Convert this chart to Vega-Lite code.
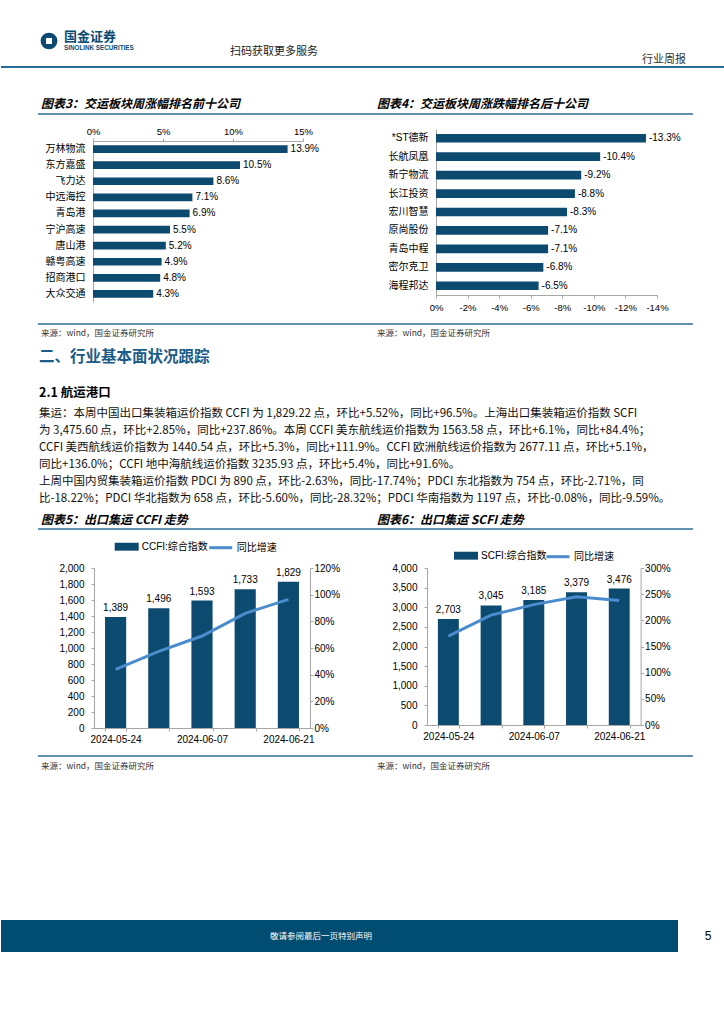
{
"$schema": "https://vega.github.io/schema/vega-lite/v6.json",
"padding": 0,
"background": "white",
"spacing": 0,
"bounds": "flush",
"resolve": {"scale": {"fill": "independent", "stroke": "independent"}, "legend": {"fill": "independent", "stroke": "independent"}},
"config": {
  "view": {"stroke": null},
  "concat": {"spacing": 0},
  "locale": {"number": {"decimal": ".", "thousands": ",", "grouping": [3], "currency": ["$", ""], "minus": "-"}},
  "axis": {"labelFont": "Liberation Sans, Noto Sans CJK SC", "labelFontSize": 10, "labelColor": "#000000", "domainColor": "#a6a6a6", "tickColor": "#a6a6a6", "grid": false, "labelOverlap": false, "labelFlush": false},
  "legend": {"labelFont": "Liberation Sans, Noto Sans CJK SC", "labelFontSize": 10, "labelColor": "#000000"}
},
"vconcat": [
  {"hconcat": [
    {"width": 39, "height": 1, "data": {"values": []}, "mark": "point"},
    {"vconcat": [
      {"width": 1, "height": 30, "data": {"values": []}, "mark": "point"},
      {"width": 18, "height": 22, "data": {"values": [{}]}, "layer": [
        {"mark": {"type": "point", "shape": "circle", "filled": true, "size": 280, "color": "#0c4a72", "opacity": 1}, "encoding": {}},
        {"mark": {"type": "point", "shape": "square", "filled": true, "size": 36, "color": "#ffffff", "opacity": 1}, "encoding": {}}
      ]}
    ], "spacing": 0, "bounds": "flush"},
    {"width": 23, "height": 1, "data": {"values": []}, "mark": "point"},
    {"vconcat": [
      {"width": 1, "height": 36, "data": {"values": []}, "mark": "point"},
      {"width": 2, "height": 2, "data": {"values": [{"t": "国金证券"}]}, "mark": {"type": "text", "align": "left", "baseline": "middle", "font": "Noto Sans CJK SC", "fontSize": 13, "fontWeight": "bold", "color": "#0c4a72"}, "encoding": {"text": {"field": "t", "type": "nominal"}}},
      {"width": 1, "height": 9, "data": {"values": []}, "mark": "point"},
      {"width": 2, "height": 2, "data": {"values": [{"t": "SINOLINK SECURITIES"}]}, "mark": {"type": "text", "align": "left", "baseline": "middle", "font": "Liberation Sans", "fontSize": 6.3, "fontWeight": "bold", "color": "#0c4a72"}, "encoding": {"text": {"field": "t", "type": "nominal"}}}
    ], "spacing": 0, "bounds": "flush"},
    {"width": 166, "height": 1, "data": {"values": []}, "mark": "point"},
    {"vconcat": [
      {"width": 1, "height": 51, "data": {"values": []}, "mark": "point"},
      {"width": 2, "height": 2, "data": {"values": [{"t": "扫码获取更多服务"}]}, "mark": {"type": "text", "align": "left", "baseline": "middle", "font": "Noto Sans CJK SC", "fontSize": 11, "color": "#222222"}, "encoding": {"text": {"field": "t", "type": "nominal"}}}
    ], "spacing": 0, "bounds": "flush"},
    {"width": 412, "height": 1, "data": {"values": []}, "mark": "point"},
    {"vconcat": [
      {"width": 1, "height": 59, "data": {"values": []}, "mark": "point"},
      {"width": 2, "height": 2, "data": {"values": [{"t": "行业周报"}]}, "mark": {"type": "text", "align": "left", "baseline": "middle", "font": "Noto Sans CJK SC", "fontSize": 11, "color": "#333333"}, "encoding": {"text": {"field": "t", "type": "nominal"}}}
    ], "spacing": 0, "bounds": "flush"}
  ], "spacing": 0, "bounds": "flush"},
  {"width": 1, "height": 67, "data": {"values": []}, "mark": "point"},
  {"hconcat": [
    {"width": 724, "height": 1, "data": {"values": [{}]}, "mark": {"type": "rule", "color": "#2a6a96", "strokeWidth": 2}, "encoding": {"y": {"datum": 1, "type": "quantitative", "scale": {"domain": [0, 1]}, "axis": null}}}
  ], "spacing": 0, "bounds": "flush"},
  {"width": 1, "height": 36, "data": {"values": []}, "mark": "point"},
  {"hconcat": [
    {"width": 39, "height": 1, "data": {"values": []}, "mark": "point"},
    {"width": 2, "height": 2, "data": {"values": [{"t": "图表3：交运板块周涨幅排名前十公司"}]}, "mark": {"type": "text", "align": "left", "baseline": "middle", "font": "Noto Sans CJK SC", "fontSize": 12, "fontWeight": "bold", "fontStyle": "italic", "color": "#000000"}, "encoding": {"text": {"field": "t", "type": "nominal"}}},
    {"width": 334, "height": 1, "data": {"values": []}, "mark": "point"},
    {"width": 2, "height": 2, "data": {"values": [{"t": "图表4：交运板块周涨跌幅排名后十公司"}]}, "mark": {"type": "text", "align": "left", "baseline": "middle", "font": "Noto Sans CJK SC", "fontSize": 12, "fontWeight": "bold", "fontStyle": "italic", "color": "#000000"}, "encoding": {"text": {"field": "t", "type": "nominal"}}}
  ], "spacing": 0, "bounds": "flush"},
  {"width": 1, "height": 11, "data": {"values": []}, "mark": "point"},
  {"hconcat": [
    {"width": 37, "height": 1, "data": {"values": []}, "mark": "point"},
    {"width": 655, "height": 1, "data": {"values": [{}]}, "mark": {"type": "rule", "color": "#2d6e99", "strokeWidth": 1.5}, "encoding": {"y": {"datum": 1, "type": "quantitative", "scale": {"domain": [0, 1]}, "axis": null}}}
  ], "spacing": 0, "bounds": "flush"},
  {"width": 1, "height": 15, "data": {"values": []}, "mark": "point"},
  {"hconcat": [
    {"width": 92, "height": 1, "data": {"values": []}, "mark": "point"},
    {"vconcat": [
      {"width": 1, "height": 12, "data": {"values": []}, "mark": "point"},
      {
        "width": 210, "height": 161,
        "data": {"values": [
          {"company": "万林物流", "pct": 0.139},
          {"company": "东方嘉盛", "pct": 0.105},
          {"company": "飞力达", "pct": 0.086},
          {"company": "中远海控", "pct": 0.071},
          {"company": "青岛港", "pct": 0.069},
          {"company": "宁沪高速", "pct": 0.055},
          {"company": "唐山港", "pct": 0.052},
          {"company": "赣粤高速", "pct": 0.049},
          {"company": "招商港口", "pct": 0.048},
          {"company": "大众交通", "pct": 0.043}
        ]},
        "encoding": {
          "y": {"field": "company", "type": "nominal", "sort": null, "scale": {"paddingInner": 0.52, "paddingOuter": 0.26}, "axis": {"title": null, "ticks": false, "labelPadding": 8, "labelFont": "Noto Sans CJK SC", "labelFontSize": 10}},
          "x": {"field": "pct", "type": "quantitative", "scale": {"domain": [0, 0.15], "nice": false}, "axis": {"orient": "top", "title": null, "values": [0, 0.05, 0.1, 0.15], "format": ".0%", "tickSize": 3, "labelPadding": 2, "labelFontSize": 9.5}}
        },
        "layer": [
          {"mark": {"type": "bar", "color": "#0d4a6f"}},
          {"mark": {"type": "text", "align": "left", "baseline": "middle", "dx": 3, "font": "Liberation Sans", "fontSize": 10, "color": "#000000"}, "encoding": {"text": {"field": "pct", "type": "quantitative", "format": ".1%"}}}
        ]
      }
    ], "spacing": 0, "bounds": "flush"},
    {"width": 343, "height": 1, "data": {"values": []}, "mark": "point"},
    {
      "width": 221, "height": 166,
      "data": {"values": [
        {"company": "*ST德新", "pct": -0.133},
        {"company": "长航凤凰", "pct": -0.104},
        {"company": "新宁物流", "pct": -0.092},
        {"company": "长江投资", "pct": -0.088},
        {"company": "宏川智慧", "pct": -0.083},
        {"company": "原尚股份", "pct": -0.071},
        {"company": "青岛中程", "pct": -0.071},
        {"company": "密尔克卫", "pct": -0.068},
        {"company": "海程邦达", "pct": -0.065}
      ]},
      "encoding": {
        "y": {"field": "company", "type": "nominal", "sort": null, "scale": {"paddingInner": 0.53, "paddingOuter": 0.265}, "axis": {"title": null, "ticks": false, "labelPadding": 8, "labelFont": "Liberation Sans, Noto Sans CJK SC", "labelFontSize": 10}},
        "x": {"field": "pct", "type": "quantitative", "scale": {"domain": [0, -0.14], "nice": false}, "axis": {"orient": "bottom", "title": null, "values": [0, -0.02, -0.04, -0.06, -0.08, -0.1, -0.12, -0.14], "format": ".0%", "tickSize": 3, "labelPadding": 4, "labelFontSize": 9.5}}
      },
      "layer": [
        {"mark": {"type": "bar", "color": "#0d4a6f"}},
        {"mark": {"type": "text", "align": "left", "baseline": "middle", "dx": 3, "font": "Liberation Sans", "fontSize": 10, "color": "#000000"}, "encoding": {"text": {"field": "pct", "type": "quantitative", "format": ".1%"}}}
      ]
    }
  ], "spacing": 0, "bounds": "flush"},
  {"width": 1, "height": 195, "data": {"values": []}, "mark": "point"},
  {"hconcat": [
    {"width": 37, "height": 1, "data": {"values": []}, "mark": "point"},
    {"width": 655, "height": 1, "data": {"values": [{}]}, "mark": {"type": "rule", "color": "#2d6e99", "strokeWidth": 1.5}, "encoding": {"y": {"datum": 1, "type": "quantitative", "scale": {"domain": [0, 1]}, "axis": null}}}
  ], "spacing": 0, "bounds": "flush"},
  {"width": 1, "height": 8, "data": {"values": []}, "mark": "point"},
  {"hconcat": [
    {"width": 39, "height": 1, "data": {"values": []}, "mark": "point"},
    {"width": 2, "height": 2, "data": {"values": [{"t": "来源：wind，国金证券研究所"}]}, "mark": {"type": "text", "align": "left", "baseline": "middle", "font": "Noto Sans CJK SC", "fontSize": 8.5, "color": "#333333"}, "encoding": {"text": {"field": "t", "type": "nominal"}}},
    {"width": 334, "height": 1, "data": {"values": []}, "mark": "point"},
    {"width": 2, "height": 2, "data": {"values": [{"t": "来源：wind，国金证券研究所"}]}, "mark": {"type": "text", "align": "left", "baseline": "middle", "font": "Noto Sans CJK SC", "fontSize": 8.5, "color": "#333333"}, "encoding": {"text": {"field": "t", "type": "nominal"}}}
  ], "spacing": 0, "bounds": "flush"},
  {"width": 1, "height": 24, "data": {"values": []}, "mark": "point"},
  {"hconcat": [
    {"width": 37, "height": 1, "data": {"values": []}, "mark": "point"},
    {"width": 2, "height": 2, "data": {"values": [{"t": "二、行业基本面状况跟踪"}]}, "mark": {"type": "text", "align": "left", "baseline": "middle", "font": "Noto Sans CJK SC", "fontSize": 15.5, "fontWeight": "bold", "color": "#1c5b87"}, "encoding": {"text": {"field": "t", "type": "nominal"}}}
  ], "spacing": 0, "bounds": "flush"},
  {"width": 1, "height": 36, "data": {"values": []}, "mark": "point"},
  {"hconcat": [
    {"width": 37, "height": 1, "data": {"values": []}, "mark": "point"},
    {"width": 2, "height": 2, "data": {"values": [{"t": "2.1 航运港口"}]}, "mark": {"type": "text", "align": "left", "baseline": "middle", "font": "Noto Sans CJK SC", "fontSize": 12.5, "fontWeight": "bold", "color": "#000000"}, "encoding": {"text": {"field": "t", "type": "nominal"}}}
  ], "spacing": 0, "bounds": "flush"},
  {"width": 1, "height": 13, "data": {"values": []}, "mark": "point"},
  {"hconcat": [
    {"width": 37, "height": 1, "data": {"values": []}, "mark": "point"},
    {"width": 2, "height": 102,
     "data": {"values": [
       {"line": 1, "t": "集运：本周中国出口集装箱运价指数 CCFI 为 1,829.22 点，环比+5.52%，同比+96.5%。上海出口集装箱运价指数 SCFI"},
       {"line": 2, "t": "为 3,475.60 点，环比+2.85%，同比+237.86%。本周 CCFI 美东航线运价指数为 1563.58 点，环比+6.1%，同比+84.4%；"},
       {"line": 3, "t": "CCFI 美西航线运价指数为 1440.54 点，环比+5.3%，同比+111.9%。CCFI 欧洲航线运价指数为 2677.11 点，环比+5.1%，"},
       {"line": 4, "t": "同比+136.0%；CCFI 地中海航线运价指数 3235.93 点，环比+5.4%，同比+91.6%。"},
       {"line": 5, "t": "上周中国内贸集装箱运价指数 PDCI 为 890 点，环比-2.63%，同比-17.74%；PDCI 东北指数为 754 点，环比-2.71%，同"},
       {"line": 6, "t": "比-18.22%；PDCI 华北指数为 658 点，环比-5.60%，同比-28.32%；PDCI 华南指数为 1197 点，环比-0.08%，同比-9.59%。"}
     ]},
     "mark": {"type": "text", "align": "left", "baseline": "middle", "font": "Noto Sans CJK SC", "fontSize": 11.5, "color": "#111111"},
     "encoding": {"y": {"field": "line", "type": "ordinal", "axis": null}, "text": {"field": "t", "type": "nominal"}}}
  ], "spacing": 0, "bounds": "flush"},
  {"width": 1, "height": 114, "data": {"values": []}, "mark": "point"},
  {"hconcat": [
    {"width": 39, "height": 1, "data": {"values": []}, "mark": "point"},
    {"width": 2, "height": 2, "data": {"values": [{"t": "图表5：出口集运 CCFI 走势"}]}, "mark": {"type": "text", "align": "left", "baseline": "middle", "font": "Noto Sans CJK SC", "fontSize": 12, "fontWeight": "bold", "fontStyle": "italic", "color": "#000000"}, "encoding": {"text": {"field": "t", "type": "nominal"}}},
    {"width": 334, "height": 1, "data": {"values": []}, "mark": "point"},
    {"width": 2, "height": 2, "data": {"values": [{"t": "图表6：出口集运 SCFI 走势"}]}, "mark": {"type": "text", "align": "left", "baseline": "middle", "font": "Noto Sans CJK SC", "fontSize": 12, "fontWeight": "bold", "fontStyle": "italic", "color": "#000000"}, "encoding": {"text": {"field": "t", "type": "nominal"}}}
  ], "spacing": 0, "bounds": "flush"},
  {"width": 1, "height": 10, "data": {"values": []}, "mark": "point"},
  {"hconcat": [
    {"width": 37, "height": 1, "data": {"values": []}, "mark": "point"},
    {"width": 655, "height": 1, "data": {"values": [{}]}, "mark": {"type": "rule", "color": "#2d6e99", "strokeWidth": 1.5}, "encoding": {"y": {"datum": 1, "type": "quantitative", "scale": {"domain": [0, 1]}, "axis": null}}}
  ], "spacing": 0, "bounds": "flush"},
  {"width": 1, "height": 39, "data": {"values": []}, "mark": "point"},
  {"hconcat": [
    {"width": 93, "height": 1, "data": {"values": []}, "mark": "point"},
    {
      "width": 216, "height": 160,
      "data": {"values": [
        {"date": "2024-05-24", "idx": 1389, "yoy": 0.44},
        {"date": "2024-05-31", "idx": 1496, "yoy": 0.575},
        {"date": "2024-06-07", "idx": 1593, "yoy": 0.69},
        {"date": "2024-06-14", "idx": 1733, "yoy": 0.86},
        {"date": "2024-06-21", "idx": 1829, "yoy": 0.965}
      ]},
      "encoding": {
        "x": {"field": "date", "type": "ordinal", "scale": {"paddingInner": 0.51, "paddingOuter": 0.255}, "axis": {"title": null, "labelAngle": 0, "tickBand": "extent", "tickSize": 3, "labelPadding": 3, "labelExpr": "indexof(['2024-05-24','2024-06-07','2024-06-21'], datum.label) >= 0 ? datum.label : ''"}}
      },
      "layer": [
        {
          "encoding": {"y": {"field": "idx", "type": "quantitative", "scale": {"domain": [0, 2000], "nice": false}, "axis": {"title": null, "values": [0, 200, 400, 600, 800, 1000, 1200, 1400, 1600, 1800, 2000], "format": ",.0f", "tickSize": 3, "labelPadding": 7}}},
          "layer": [
            {"mark": {"type": "bar", "color": "#0d4a6f"}, "encoding": {"fill": {"datum": "CCFI:综合指数", "type": "nominal", "scale": {"range": ["#0d4a6f"]}, "legend": {"orient": "none", "legendX": 20.7, "legendY": -33.3, "title": null, "padding": 0, "symbolType": "M-1,-0.33H1V0.33H-1Z", "symbolSize": 576, "symbolStrokeWidth": 0, "labelOffset": 3}}}},
            {"mark": {"type": "text", "baseline": "bottom", "dy": -4, "font": "Liberation Sans", "fontSize": 10, "color": "#000000"}, "encoding": {"text": {"field": "idx", "type": "quantitative", "format": ",.0f"}}}
          ]
        },
        {"mark": {"type": "line", "strokeWidth": 3, "color": "#4a8ccd"}, "encoding": {"y": {"field": "yoy", "type": "quantitative", "scale": {"domain": [0, 1.2], "nice": false}, "axis": {"orient": "right", "title": null, "values": [0, 0.2, 0.4, 0.6, 0.8, 1.0, 1.2], "format": ".0%", "tickSize": 3, "labelPadding": 1}}, "stroke": {"datum": "同比增速", "type": "nominal", "scale": {"range": ["#4a8ccd"]}, "legend": {"orient": "none", "legendX": 113.7, "legendY": -33.3, "title": null, "padding": 0, "symbolType": "stroke", "symbolSize": 529, "symbolStrokeWidth": 3, "labelOffset": 3}}}}
      ],
      "resolve": {"scale": {"y": "independent"}}
    },
    {"width": 117, "height": 1, "data": {"values": []}, "mark": "point"},
    {
      "width": 213.6, "height": 157,
      "data": {"values": [
        {"date": "2024-05-24", "idx": 2703, "yoy": 1.70},
        {"date": "2024-05-31", "idx": 3045, "yoy": 2.10},
        {"date": "2024-06-07", "idx": 3185, "yoy": 2.30},
        {"date": "2024-06-14", "idx": 3379, "yoy": 2.45},
        {"date": "2024-06-21", "idx": 3476, "yoy": 2.38}
      ]},
      "encoding": {
        "x": {"field": "date", "type": "ordinal", "scale": {"paddingInner": 0.51, "paddingOuter": 0.255}, "axis": {"title": null, "labelAngle": 0, "tickBand": "extent", "tickSize": 3, "labelPadding": 3, "labelExpr": "indexof(['2024-05-24','2024-06-07','2024-06-21'], datum.label) >= 0 ? datum.label : ''"}}
      },
      "layer": [
        {
          "encoding": {"y": {"field": "idx", "type": "quantitative", "scale": {"domain": [0, 4000], "nice": false}, "axis": {"title": null, "values": [0, 500, 1000, 1500, 2000, 2500, 3000, 3500, 4000], "format": ",.0f", "tickSize": 3, "labelPadding": 7}}},
          "layer": [
            {"mark": {"type": "bar", "color": "#0d4a6f"}, "encoding": {"fill": {"datum": "SCFI:综合指数", "type": "nominal", "scale": {"range": ["#0d4a6f"]}, "legend": {"orient": "none", "legendX": 27, "legendY": -24.3, "title": null, "padding": 0, "symbolType": "M-1,-0.33H1V0.33H-1Z", "symbolSize": 576, "symbolStrokeWidth": 0, "labelOffset": 3}}}},
            {"mark": {"type": "text", "baseline": "bottom", "dy": -4, "font": "Liberation Sans", "fontSize": 10, "color": "#000000"}, "encoding": {"text": {"field": "idx", "type": "quantitative", "format": ",.0f"}}}
          ]
        },
        {"mark": {"type": "line", "strokeWidth": 3, "color": "#4a8ccd"}, "encoding": {"y": {"field": "yoy", "type": "quantitative", "scale": {"domain": [0, 3], "nice": false}, "axis": {"orient": "right", "title": null, "values": [0, 0.5, 1.0, 1.5, 2.0, 2.5, 3.0], "format": ".0%", "tickSize": 3, "labelPadding": 1}}, "stroke": {"datum": "同比增速", "type": "nominal", "scale": {"range": ["#4a8ccd"]}, "legend": {"orient": "none", "legendX": 118, "legendY": -24.3, "title": null, "padding": 0, "symbolType": "stroke", "symbolSize": 529, "symbolStrokeWidth": 3, "labelOffset": 3}}}}
      ],
      "resolve": {"scale": {"y": "independent"}}
    }
  ], "spacing": 0, "bounds": "flush", "resolve": {"scale": {"fill": "independent", "stroke": "independent"}, "legend": {"fill": "independent", "stroke": "independent"}}},
  {"width": 1, "height": 188, "data": {"values": []}, "mark": "point"},
  {"hconcat": [
    {"width": 37, "height": 1, "data": {"values": []}, "mark": "point"},
    {"width": 655, "height": 1, "data": {"values": [{}]}, "mark": {"type": "rule", "color": "#2d6e99", "strokeWidth": 1.5}, "encoding": {"y": {"datum": 1, "type": "quantitative", "scale": {"domain": [0, 1]}, "axis": null}}}
  ], "spacing": 0, "bounds": "flush"},
  {"width": 1, "height": 9, "data": {"values": []}, "mark": "point"},
  {"hconcat": [
    {"width": 39, "height": 1, "data": {"values": []}, "mark": "point"},
    {"width": 2, "height": 2, "data": {"values": [{"t": "来源：wind，国金证券研究所"}]}, "mark": {"type": "text", "align": "left", "baseline": "middle", "font": "Noto Sans CJK SC", "fontSize": 8.5, "color": "#333333"}, "encoding": {"text": {"field": "t", "type": "nominal"}}},
    {"width": 334, "height": 1, "data": {"values": []}, "mark": "point"},
    {"width": 2, "height": 2, "data": {"values": [{"t": "来源：wind，国金证券研究所"}]}, "mark": {"type": "text", "align": "left", "baseline": "middle", "font": "Noto Sans CJK SC", "fontSize": 8.5, "color": "#333333"}, "encoding": {"text": {"field": "t", "type": "nominal"}}}
  ], "spacing": 0, "bounds": "flush"},
  {"width": 1, "height": 155, "data": {"values": []}, "mark": "point"},
  {"hconcat": [
    {"width": 640, "height": 32, "view": {"fill": "#004d71", "stroke": null}, "data": {"values": [{"t": "敬请参阅最后一页特别声明"}]}, "mark": {"type": "text", "align": "center", "baseline": "middle", "font": "Noto Sans CJK SC", "fontSize": 8.5, "color": "#ffffff"}, "encoding": {"text": {"field": "t", "type": "nominal"}}},
    {"width": 37, "height": 32, "view": {"fill": "#004d71", "stroke": null}, "data": {"values": []}, "mark": "point"},
    {"width": 29, "height": 1, "data": {"values": []}, "mark": "point"},
    {"vconcat": [
      {"width": 1, "height": 15, "data": {"values": []}, "mark": "point"},
      {"width": 2, "height": 2, "data": {"values": [{"t": "5"}]}, "mark": {"type": "text", "align": "center", "baseline": "middle", "font": "Liberation Sans", "fontSize": 12, "color": "#000000"}, "encoding": {"text": {"field": "t", "type": "nominal"}}}
    ], "spacing": 0, "bounds": "flush"}
  ], "spacing": 0, "bounds": "flush"}
]
}
